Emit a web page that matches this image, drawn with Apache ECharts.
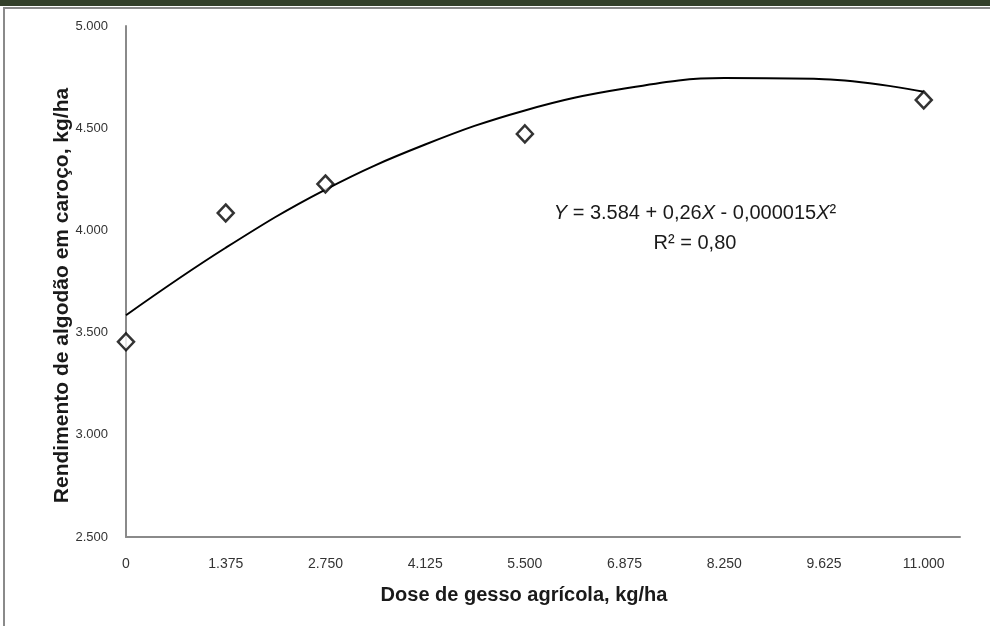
<!DOCTYPE html>
<html>
<head>
<meta charset="utf-8">
<script src="https://cdn.jsdelivr.net/npm/echarts@6/dist/echarts.min.js"></script>
<style>
  html, body { margin: 0; padding: 0; background: #fff; }
  #chart { width: 990px; height: 626px; }
</style>
</head>
<body>
<div id="chart"></div>
<script>
// observed points (dose kg/ha, yield kg/ha)
var doses = [0, 1375, 2750, 5500, 11000]
var yields = [3455, 4085, 4227, 4472, 4638]

// fitted curve as drawn
var curveDoses = [0, 1375, 2750, 4125, 5500, 6875, 8250, 9625, 11000]
var curveYields = [3585, 3915, 4200, 4420, 4587, 4694, 4745, 4740, 4678]

var yTicks = [2500, 3000, 3500, 4000, 4500, 5000]
var xTicks = [0, 1375, 2750, 4125, 5500, 6875, 8250, 9625, 11000]

var equationText = '{i|Y} = 3.584 + 0,26{i|X} - 0,000015{i|X}²'
var r2Text = 'R² = 0,80'

var font = "'Liberation Sans', sans-serif"
var textColor = '#333'

function fmt (v) {
  if (v === 0) return '0'
  return (v / 1000).toFixed(3)
}

var chart = echarts.init(document.getElementById('chart'))

var option = {
  animation: false,
  grid: { left: 126, top: 26, right: 30, bottom: 89 },
  xAxis: {
    type: 'value',
    min: 0,
    max: 11500,
    interval: 1375,
    name: 'Dose de gesso agrícola, kg/ha',
    nameLocation: 'middle',
    nameGap: 48,
    nameMoveOverlap: false,
    nameTextStyle: { fontFamily: font, fontSize: 20, fontWeight: 'bold', color: '#1a1a1a', padding: [0, 38, 0, 0] },
    axisLine: { lineStyle: { color: '#8a8a8a', width: 2 } },
    axisTick: { show: false },
    splitLine: { show: false },
    axisLabel: {
      showMaxLabel: false,
      margin: 20,
      fontFamily: font,
      fontSize: 14,
      color: textColor,
      formatter: function (v) { return xTicks.indexOf(v) >= 0 ? fmt(v) : '' }
    }
  },
  yAxis: {
    type: 'value',
    min: yTicks[0],
    max: yTicks[yTicks.length - 1],
    interval: 500,
    name: 'Rendimento de algodão em caroço, kg/ha',
    nameLocation: 'middle',
    nameGap: 53,
    nameMoveOverlap: false,
    nameTextStyle: { fontFamily: font, fontSize: 21, fontWeight: 'bold', color: '#1a1a1a', padding: [0, 28, 0, 0] },
    axisLine: { show: true, lineStyle: { color: '#8a8a8a', width: 2 } },
    axisTick: { show: false },
    splitLine: { show: false },
    axisLabel: {
      margin: 18,
      fontFamily: font,
      fontSize: 13,
      color: textColor,
      formatter: fmt
    }
  },
  series: [{
    type: 'line',
    smooth: 0.4,
    showSymbol: false,
    lineStyle: { color: '#000', width: 2 },
    data: curveDoses.map(function (d, i) { return [d, curveYields[i]] }),
    z: 2
  }, {
    type: 'scatter',
    symbol: 'diamond',
    symbolSize: [16, 17],
    itemStyle: { color: '#fff', borderColor: '#000', borderWidth: 2.5 },
    data: doses.map(function (d, i) { return [d, yields[i]] }),
    z: 3
  }],
  graphic: [{
    type: 'rect',
    shape: { x: 0, y: 0, width: 990, height: 6 },
    style: { fill: '#33402a' }
  }, {
    type: 'polyline',
    shape: { points: [[4, 626], [4, 8], [990, 8]] },
    style: { stroke: '#8a8a8a', lineWidth: 2, fill: null }
  }, {
    type: 'text',
    x: 695,
    y: 213,
    style: {
      text: equationText,
      align: 'center',
      verticalAlign: 'middle',
      fontFamily: font,
      fontSize: 20,
      fill: '#1a1a1a',
      rich: { i: { fontStyle: 'italic', fontFamily: font, fontSize: 20, fill: '#1a1a1a' } }
    }
  }, {
    type: 'text',
    x: 695,
    y: 243,
    style: {
      text: r2Text,
      align: 'center',
      verticalAlign: 'middle',
      fontFamily: font,
      fontSize: 20,
      fill: '#1a1a1a'
    }
  }]
}

chart.setOption(option)
</script>
</body>
</html>
